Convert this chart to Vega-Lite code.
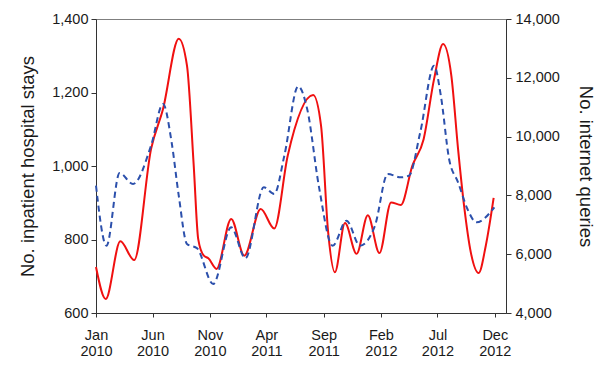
{
  "$schema": "https://vega.github.io/schema/vega-lite/v6.json",
  "width": 410,
  "height": 294,
  "padding": {"left": 18, "top": 11, "right": 5, "bottom": 5},
  "background": "white",
  "config": {
    "font": "Liberation Sans",
    "view": {"stroke": "#7f7f7f", "strokeWidth": 1},
    "axis": {
      "grid": false,
      "domainColor": "#333333",
      "tickColor": "#333333",
      "labelColor": "#1a1a1a",
      "titleColor": "#1a1a1a",
      "labelFontSize": 14.5,
      "titleFontSize": 18.5,
      "titleFontWeight": "normal",
      "tickSize": 5
    }
  },
  "datasets": {
    "stays": [
      {"date": "2010-01-01", "v": 725},
      {"date": "2010-01-27", "v": 638},
      {"date": "2010-03-07", "v": 795},
      {"date": "2010-04-13", "v": 744},
      {"date": "2010-05-28", "v": 1046},
      {"date": "2010-06-29", "v": 1155},
      {"date": "2010-08-10", "v": 1346},
      {"date": "2010-09-01", "v": 1273},
      {"date": "2010-09-19", "v": 1001},
      {"date": "2010-10-01", "v": 801},
      {"date": "2010-10-16", "v": 756},
      {"date": "2010-10-28", "v": 749},
      {"date": "2010-11-19", "v": 720},
      {"date": "2010-12-28", "v": 856},
      {"date": "2011-02-01", "v": 756},
      {"date": "2011-03-17", "v": 883},
      {"date": "2011-04-22", "v": 830},
      {"date": "2011-05-28", "v": 1028},
      {"date": "2011-08-04", "v": 1193},
      {"date": "2011-08-25", "v": 1110},
      {"date": "2011-09-13", "v": 820},
      {"date": "2011-10-01", "v": 711},
      {"date": "2011-10-28", "v": 845},
      {"date": "2011-11-28", "v": 761},
      {"date": "2011-12-28", "v": 866},
      {"date": "2012-01-28", "v": 763},
      {"date": "2012-02-28", "v": 901},
      {"date": "2012-03-25", "v": 894},
      {"date": "2012-04-25", "v": 1001},
      {"date": "2012-05-25", "v": 1073},
      {"date": "2012-06-22", "v": 1237},
      {"date": "2012-07-16", "v": 1332},
      {"date": "2012-08-07", "v": 1246},
      {"date": "2012-08-25", "v": 1046},
      {"date": "2012-09-10", "v": 892},
      {"date": "2012-09-28", "v": 765},
      {"date": "2012-10-19", "v": 709},
      {"date": "2012-11-07", "v": 783},
      {"date": "2012-11-28", "v": 913}
    ],
    "queries": [
      {"date": "2010-01-01", "q": 8331},
      {"date": "2010-01-29", "q": 6290},
      {"date": "2010-03-05", "q": 8762},
      {"date": "2010-04-10", "q": 8388},
      {"date": "2010-05-28", "q": 9691},
      {"date": "2010-06-29", "q": 11109},
      {"date": "2010-07-22", "q": 9806},
      {"date": "2010-08-10", "q": 7990},
      {"date": "2010-09-01", "q": 6348},
      {"date": "2010-09-28", "q": 6200},
      {"date": "2010-11-10", "q": 4987},
      {"date": "2010-12-28", "q": 6915},
      {"date": "2011-02-04", "q": 5861},
      {"date": "2011-03-25", "q": 8276},
      {"date": "2011-04-22", "q": 8048},
      {"date": "2011-05-19", "q": 9351},
      {"date": "2011-06-25", "q": 11711},
      {"date": "2011-07-19", "q": 10939},
      {"date": "2011-08-19", "q": 8331},
      {"date": "2011-09-25", "q": 6290},
      {"date": "2011-11-01", "q": 7140},
      {"date": "2011-12-07", "q": 6290},
      {"date": "2012-01-16", "q": 6970},
      {"date": "2012-02-19", "q": 8728},
      {"date": "2012-03-25", "q": 8616},
      {"date": "2012-04-16", "q": 8671},
      {"date": "2012-05-16", "q": 10147},
      {"date": "2012-06-22", "q": 12412},
      {"date": "2012-07-10", "q": 11392},
      {"date": "2012-08-01", "q": 9239},
      {"date": "2012-08-25", "q": 8446},
      {"date": "2012-09-19", "q": 7538},
      {"date": "2012-10-13", "q": 7086},
      {"date": "2012-11-30", "q": 7596}
    ]
  },
  "encoding": {
    "x": {
      "field": "date",
      "type": "temporal",
      "scale": {
        "type": "utc",
        "domain": [
          {"year": 2010, "month": 1, "date": 1, "utc": true},
          {"year": 2012, "month": 12, "date": 31, "utc": true}
        ]
      },
      "axis": {
        "title": null,
        "values": [
          {"year": 2010, "month": 1, "date": 1, "utc": true},
          {"year": 2010, "month": 6, "date": 1, "utc": true},
          {"year": 2010, "month": 11, "date": 1, "utc": true},
          {"year": 2011, "month": 4, "date": 1, "utc": true},
          {"year": 2011, "month": 9, "date": 1, "utc": true},
          {"year": 2012, "month": 2, "date": 1, "utc": true},
          {"year": 2012, "month": 7, "date": 1, "utc": true},
          {"year": 2012, "month": 12, "date": 1, "utc": true}
        ],
        "labelExpr": "[utcFormat(datum.value, '%b'), utcFormat(datum.value, '%Y')]",
        "labelLineHeight": 16,
        "labelPadding": 11,
        "tickSize": 4,
        "labelFlush": false,
        "labelOverlap": false
      }
    }
  },
  "layer": [
    {
      "data": {"name": "stays"},
      "mark": {"type": "line", "color": "#f01010", "strokeWidth": 2, "interpolate": "monotone"},
      "encoding": {
        "y": {
          "field": "v",
          "type": "quantitative",
          "scale": {"domain": [600, 1400], "nice": false, "zero": false},
          "axis": {
            "title": "No. inpatient hospital stays",
            "values": [600, 800, 1000, 1200, 1400],
            "format": ",.0f",
            "orient": "left",
            "titlePadding": 14,
            "labelPadding": 3
          }
        }
      }
    },
    {
      "data": {"name": "queries"},
      "mark": {"type": "line", "color": "#2c50ac", "strokeWidth": 2, "strokeDash": [6, 4], "interpolate": "monotone"},
      "encoding": {
        "y": {
          "field": "q",
          "type": "quantitative",
          "scale": {"domain": [4000, 14000], "nice": false, "zero": false},
          "axis": {
            "title": "No. internet queries",
            "values": [4000, 6000, 8000, 10000, 12000, 14000],
            "format": ",.0f",
            "orient": "right",
            "titlePadding": 16,
            "labelPadding": 4
          }
        }
      }
    }
  ],
  "resolve": {"scale": {"y": "independent"}}
}
